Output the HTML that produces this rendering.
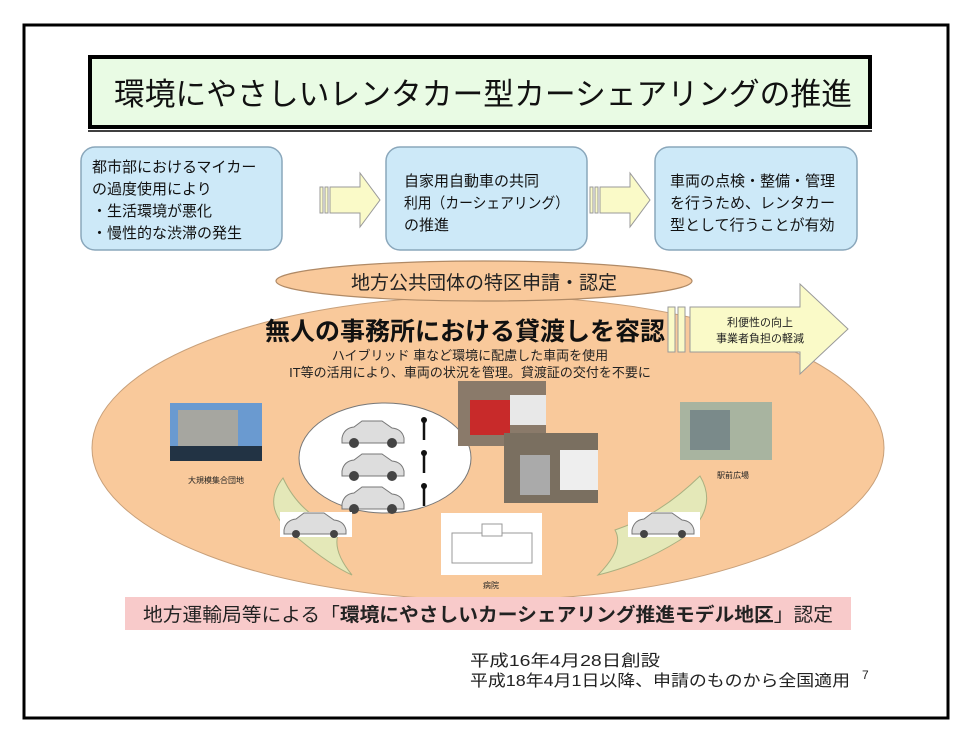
<!DOCTYPE html>
<html><head><meta charset="utf-8"><style>
body{margin:0;background:#fff;}
svg text{font-family:"Liberation Sans","Noto Sans CJK JP",sans-serif;}
</style></head><body>
<svg width="975" height="742" viewBox="0 0 975 742" xmlns="http://www.w3.org/2000/svg">
<rect x="0" y="0" width="975" height="742" fill="#fff"/>
<rect x="24" y="25" width="924" height="693" fill="#fff" stroke="#000" stroke-width="3"/>
<!-- title -->
<rect x="90" y="57" width="780" height="70" fill="#e9fbe4" stroke="#000" stroke-width="4"/>
<line x1="88" y1="131" x2="872" y2="131" stroke="#000" stroke-width="1.5"/>
<text x="114" y="105" font-size="31" textLength="738" lengthAdjust="spacingAndGlyphs" fill="#111">環境にやさしいレンタカー型カーシェアリングの推進</text>
<!-- boxes -->
<g fill="#cde9f8" stroke="#8aa7bb" stroke-width="1.5">
<rect x="81" y="147" width="201" height="103" rx="14"/>
<rect x="386" y="147" width="201" height="103" rx="14"/>
<rect x="655" y="147" width="202" height="103" rx="14"/>
</g>
<g font-size="15" fill="#111">
<text x="92" y="172">都市部におけるマイカー</text>
<text x="92" y="194">の過度使用により</text>
<text x="92" y="216">・生活環境が悪化</text>
<text x="92" y="238">・慢性的な渋滞の発生</text>
<text x="404" y="186">自家用自動車の共同</text>
<text x="404" y="208" textLength="165" lengthAdjust="spacingAndGlyphs">利用（カーシェアリング）</text>
<text x="404" y="230">の推進</text>
<text x="670" y="186">車両の点検・整備・管理</text>
<text x="670" y="208">を行うため、レンタカー</text>
<text x="670" y="230">型として行うことが有効</text>
</g>
<!-- arrows -->
<g fill="#fafac8" stroke="#999" stroke-width="1">
<rect x="320" y="187" width="3" height="26"/><rect x="325" y="187" width="3" height="26"/>
<path d="M330 187 H360 V173 L380 200 L360 227 V213 H330 Z"/>
<rect x="590" y="187" width="3" height="26"/><rect x="595" y="187" width="3" height="26"/>
<path d="M600 187 H630 V173 L650 200 L630 227 V213 H600 Z"/>
</g>
<!-- big ellipse -->
<ellipse cx="488" cy="448" rx="396" ry="152" fill="#f9c99b" stroke="#c8a07a" stroke-width="1"/>
<ellipse cx="484" cy="281" rx="208" ry="20" fill="#f9c99b" stroke="#b08a66" stroke-width="1.2"/>
<text x="484" y="289" font-size="19" text-anchor="middle" fill="#222">地方公共団体の特区申請・認定</text>
<text x="265" y="340" font-size="25" font-weight="bold" textLength="400" lengthAdjust="spacingAndGlyphs" fill="#111">無人の事務所における貸渡しを容認</text>
<text x="470" y="360" font-size="13" text-anchor="middle" fill="#222">ハイブリッド 車など環境に配慮した車両を使用</text>
<text x="470" y="377" font-size="13" text-anchor="middle" fill="#222">IT等の活用により、車両の状況を管理。貸渡証の交付を不要に</text>
<!-- right arrow -->
<g fill="#fafac8" stroke="#999" stroke-width="1">
<rect x="668" y="307" width="7" height="45"/><rect x="678" y="307" width="7" height="45"/>
<path d="M690 307 H800 V284 L848 329 L800 374 V352 H690 Z"/>
</g>
<text x="760" y="326" font-size="11" text-anchor="middle" fill="#222">利便性の向上</text>
<text x="760" y="342" font-size="11" text-anchor="middle" fill="#222">事業者負担の軽減</text>
<!-- white ellipse -->
<ellipse cx="385" cy="458" rx="86" ry="55" fill="#fff" stroke="#777" stroke-width="1"/>
<g>
<g transform="translate(340,420)"><path d="M2 18 Q4 8 14 7 L22 1 H42 L52 8 Q62 9 64 18 V23 H2 Z" fill="#ddd" stroke="#777"/><circle cx="14" cy="23" r="5" fill="#444"/><circle cx="52" cy="23" r="5" fill="#444"/></g>
<g transform="translate(340,453)"><path d="M2 18 Q4 8 14 7 L22 1 H42 L52 8 Q62 9 64 18 V23 H2 Z" fill="#ddd" stroke="#777"/><circle cx="14" cy="23" r="5" fill="#444"/><circle cx="52" cy="23" r="5" fill="#444"/></g>
<g transform="translate(340,486)"><path d="M2 18 Q4 8 14 7 L22 1 H42 L52 8 Q62 9 64 18 V23 H2 Z" fill="#ddd" stroke="#777"/><circle cx="14" cy="23" r="5" fill="#444"/><circle cx="52" cy="23" r="5" fill="#444"/></g>
<g stroke="#111" stroke-width="2.5"><line x1="424" y1="420" x2="424" y2="440"/><line x1="424" y1="453" x2="424" y2="473"/><line x1="424" y1="486" x2="424" y2="506"/></g>
<g fill="#111"><circle cx="424" cy="420" r="3"/><circle cx="424" cy="453" r="3"/><circle cx="424" cy="486" r="3"/></g>
</g>
<!-- photos -->
<rect x="458" y="381" width="88" height="65" fill="#8a7a6a"/>
<rect x="470" y="400" width="40" height="35" fill="#c82a2a"/>
<rect x="510" y="395" width="36" height="30" fill="#e8e8e8"/>
<rect x="504" y="433" width="94" height="70" fill="#7a6f60"/>
<rect x="560" y="450" width="38" height="40" fill="#eee"/>
<rect x="520" y="455" width="30" height="40" fill="#aaa"/>
<rect x="170" y="403" width="92" height="58" fill="#6a9ad0"/>
<rect x="178" y="410" width="60" height="38" fill="#a6a6a0"/>
<rect x="170" y="446" width="92" height="15" fill="#234"/>
<text x="216" y="483" font-size="8" text-anchor="middle" fill="#222">大規模集合団地</text>
<rect x="680" y="402" width="92" height="58" fill="#a8b4a0"/>
<rect x="690" y="410" width="40" height="40" fill="#7a8a8a"/>
<text x="733" y="478" font-size="8" text-anchor="middle" fill="#222">駅前広場</text>
<!-- leaf arrows -->
<path d="M283 478 Q258 510 300 540 Q330 565 352 575 Q330 548 340 530 Q300 515 283 478 Z" fill="#e4e8b8" stroke="#aab080" stroke-width="1"/>
<path d="M700 476 Q720 510 680 540 Q640 565 598 575 Q625 548 615 530 Q660 515 700 476 Z" fill="#e4e8b8" stroke="#aab080" stroke-width="1"/>
<g transform="translate(280,512)"><rect x="0" y="0" width="72" height="25" fill="#fff"/><path d="M4 18 Q6 8 16 7 L24 1 H44 L54 8 Q64 9 66 18 V22 H4 Z" fill="#ddd" stroke="#777"/><circle cx="16" cy="22" r="4" fill="#444"/><circle cx="54" cy="22" r="4" fill="#444"/></g>
<g transform="translate(628,512)"><rect x="0" y="0" width="72" height="25" fill="#fff"/><path d="M4 18 Q6 8 16 7 L24 1 H44 L54 8 Q64 9 66 18 V22 H4 Z" fill="#ddd" stroke="#777"/><circle cx="16" cy="22" r="4" fill="#444"/><circle cx="54" cy="22" r="4" fill="#444"/></g>
<rect x="441" y="513" width="101" height="62" fill="#fff"/>
<rect x="452" y="533" width="80" height="30" fill="#fff" stroke="#999"/>
<rect x="482" y="524" width="20" height="12" fill="#fff" stroke="#999"/>
<text x="491" y="588" font-size="8" text-anchor="middle" fill="#222">病院</text>
<!-- pink banner -->
<rect x="125" y="597" width="726" height="33" fill="#f8caca"/>
<text x="143" y="621" font-size="19" fill="#222" textLength="690" lengthAdjust="spacingAndGlyphs">地方運輸局等による「<tspan font-weight="bold">環境にやさしいカーシェアリング推進モデル地区</tspan>」認定</text>
<text x="470" y="666" font-size="16" fill="#222" textLength="190" lengthAdjust="spacingAndGlyphs">平成16年4月28日創設</text>
<text x="470" y="686" font-size="16" fill="#222" textLength="380" lengthAdjust="spacingAndGlyphs">平成18年4月1日以降、申請のものから全国適用</text>
<text x="862" y="679" font-size="12" fill="#222">7</text>
</svg>
</body></html>
